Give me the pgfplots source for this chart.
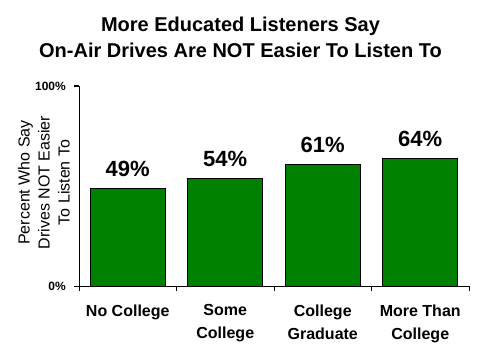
\documentclass[border=0pt]{standalone}
\usepackage{fontspec}
\setmainfont{Liberation Sans}
\usepackage{pgfplots}
\pgfplotsset{compat=1.18}
\definecolor{bargreen}{HTML}{008000}
\begin{document}
\begin{tikzpicture}[x=1bp,y=1bp]
\useasboundingbox (0,0) rectangle (480,360);
\node[anchor=base,inner sep=0,font=\bfseries\fontsize{20bp}{24bp}\selectfont] at (240.5,329) {More Educated Listeners Say};
\node[anchor=base,inner sep=0,font=\bfseries\fontsize{20bp}{24bp}\selectfont] at (240.5,303) {On-Air Drives Are NOT Easier To Listen To};
\node[rotate=90,align=center,inner sep=0,font=\fontsize{16bp}{20bp}\selectfont] at (44,177.5) {Percent Who Say\\Drives NOT Easier\\To Listen To};
\begin{axis}[
  at={(79bp,74bp)}, anchor=south west,
  scale only axis, width=390bp, height=200bp,
  xmin=-0.5, xmax=3.5, ymin=0, ymax=100,
  axis x line=bottom, axis y line=left,
  axis line style={-, black, line width=1bp},
  /pgf/number format/assume math mode=true,
  ybar, bar width=0.77,
  clip=false,
  tick align=outside,
  ytick={0,100}, yticklabels={0\%,100\%},
  yticklabel style={font=\bfseries\fontsize{12bp}{14bp}\selectfont, inner sep=0, xshift=-8bp},
  major tick length=5bp,
  ytick style={black, line width=1bp},
  xtick={0,1,2,3},
  xticklabels={{No College},{Some\\College},{College\\Graduate},{More Than\\College}},
  major x tick style={draw=none},
  minor xtick={-0.5,0.5,1.5,2.5,3.5},
  minor tick length=5bp,
  minor x tick style={black, line width=1bp},
  xticklabel style={align=center, font=\bfseries\fontsize{16bp}{23bp}\selectfont, inner sep=0, anchor=north, yshift=-13.5bp},
  nodes near coords={\pgfmathprintnumber{\pgfplotspointmeta}\%},
  nodes near coords style={font=\bfseries\fontsize{22bp}{26bp}\selectfont, anchor=base, inner sep=0, yshift=12bp},
]
\addplot[fill=bargreen, draw=black, line width=1bp] coordinates {(0,49) (1,54) (2,61) (3,64)};
\end{axis}
\end{tikzpicture}
\end{document}
